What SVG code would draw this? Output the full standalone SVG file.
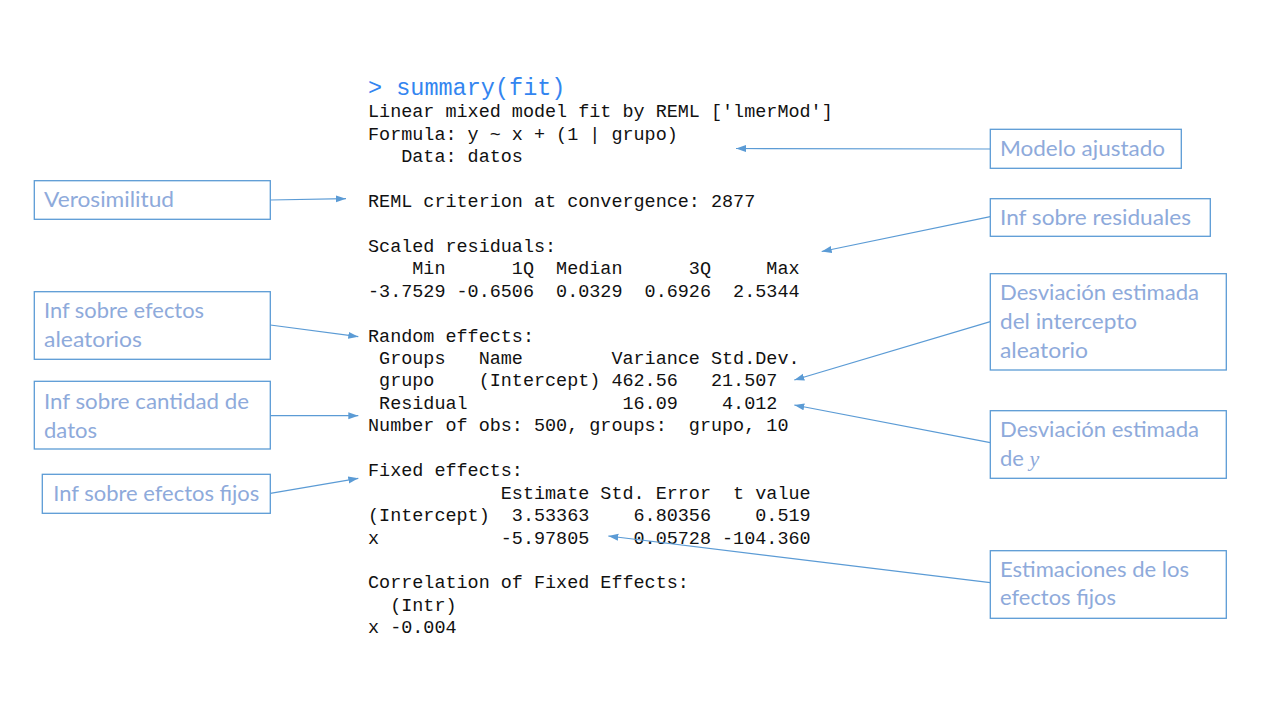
<svg xmlns="http://www.w3.org/2000/svg" width="1280" height="720" viewBox="0 0 1280 720">
<defs>
<style>
.code{font-family:"Liberation Mono","Courier New",monospace;font-size:18.45px;fill:#111;white-space:pre;}
.cmd{font-family:"Liberation Mono","Courier New",monospace;font-size:23.5px;fill:#3385f0;white-space:pre;}
.box{fill:#fff;stroke:#5b9bd5;stroke-width:1.3;}
.lbl{font-family:Lato,"Noto Sans",sans-serif;font-size:22px;fill:#8eaadb;}
.math{font-family:"Liberation Serif",serif;font-style:italic;}
.conn{stroke:#5b9bd5;stroke-width:1.2;fill:none;marker-end:url(#arr);}
</style>
<marker id="arr" markerUnits="userSpaceOnUse" markerWidth="11" markerHeight="8" refX="10" refY="3.5" orient="auto">
<path d="M0,0 L10,3.5 L0,7 z" fill="#5b9bd5"/>
</marker>
</defs>
<rect width="1280" height="720" fill="#fff"/>

<g id="console">
<text class="cmd" x="368" y="94.5" xml:space="preserve">&gt; summary(fit)</text>
<text class="code" x="368" y="117" xml:space="preserve">Linear mixed model fit by REML ['lmerMod']</text>
<text class="code" x="368" y="139.5" xml:space="preserve">Formula: y ~ x + (1 | grupo)</text>
<text class="code" x="368" y="161.9" xml:space="preserve">   Data: datos</text>
<text class="code" x="368" y="206.8" xml:space="preserve">REML criterion at convergence: 2877</text>
<text class="code" x="368" y="251.7" xml:space="preserve">Scaled residuals: </text>
<text class="code" x="368" y="274.1" xml:space="preserve">    Min      1Q  Median      3Q     Max </text>
<text class="code" x="368" y="296.5" xml:space="preserve">-3.7529 -0.6506  0.0329  0.6926  2.5344 </text>
<text class="code" x="368" y="341.5" xml:space="preserve">Random effects:</text>
<text class="code" x="368" y="363.9" xml:space="preserve"> Groups   Name        Variance Std.Dev.</text>
<text class="code" x="368" y="386.3" xml:space="preserve"> grupo    (Intercept) 462.56   21.507 </text>
<text class="code" x="368" y="408.8" xml:space="preserve"> Residual              16.09    4.012 </text>
<text class="code" x="368" y="431.2" xml:space="preserve">Number of obs: 500, groups:  grupo, 10</text>
<text class="code" x="368" y="476.1" xml:space="preserve">Fixed effects:</text>
<text class="code" x="368" y="498.5" xml:space="preserve">            Estimate Std. Error  t value</text>
<text class="code" x="368" y="521" xml:space="preserve">(Intercept)  3.53363    6.80356    0.519</text>
<text class="code" x="368" y="543.5" xml:space="preserve">x           -5.97805    0.05728 -104.360</text>
<text class="code" x="368" y="588.3" xml:space="preserve">Correlation of Fixed Effects:</text>
<text class="code" x="368" y="610.7" xml:space="preserve">  (Intr)</text>
<text class="code" x="368" y="633.2" xml:space="preserve">x -0.004</text>
</g>

<g id="connectors">
<line class="conn" x1="270.3" y1="200" x2="346" y2="198.7"/>
<line class="conn" x1="270.3" y1="325" x2="358.3" y2="336.7"/>
<line class="conn" x1="270.3" y1="415.7" x2="358.3" y2="415.7"/>
<line class="conn" x1="270.3" y1="493.3" x2="358.3" y2="478.3"/>
<line class="conn" x1="990.3" y1="149" x2="736" y2="148.5"/>
<line class="conn" x1="990.3" y1="216.7" x2="821.7" y2="251.5"/>
<line class="conn" x1="990.3" y1="321.7" x2="794.3" y2="380"/>
<line class="conn" x1="990.3" y1="442.7" x2="794.3" y2="405"/>
<line class="conn" x1="990.3" y1="582.7" x2="608.3" y2="536"/>
</g>

<g id="verosimilitud">
<rect class="box" x="34.3" y="180.7" width="236" height="38.6"/>
<text class="lbl" x="44" y="207.3" textLength="130" lengthAdjust="spacingAndGlyphs">Verosimilitud</text>
</g>
<g id="efectos-aleatorios">
<rect class="box" x="34.3" y="291.7" width="236" height="67.6"/>
<text class="lbl" x="44" y="318" textLength="160" lengthAdjust="spacingAndGlyphs">Inf sobre efectos</text>
<text class="lbl" x="44" y="347.3" textLength="98" lengthAdjust="spacingAndGlyphs">aleatorios</text>
</g>
<g id="cantidad-datos">
<rect class="box" x="34.3" y="381.3" width="236" height="67.7"/>
<text class="lbl" x="44" y="408.6" textLength="205" lengthAdjust="spacingAndGlyphs">Inf sobre cantidad de</text>
<text class="lbl" x="44" y="438" textLength="53" lengthAdjust="spacingAndGlyphs">datos</text>
</g>
<g id="efectos-fijos">
<rect class="box" x="42.3" y="474.3" width="228" height="39"/>
<text class="lbl" x="53.3" y="501.3" textLength="206" lengthAdjust="spacingAndGlyphs">Inf sobre efectos fijos</text>
</g>
<g id="modelo-ajustado">
<rect class="box" x="990.3" y="129.3" width="191" height="39"/>
<text class="lbl" x="1000" y="156.3" textLength="165" lengthAdjust="spacingAndGlyphs">Modelo ajustado</text>
</g>
<g id="residuales">
<rect class="box" x="990.3" y="198.7" width="220" height="37.6"/>
<text class="lbl" x="1000" y="224.6" textLength="191" lengthAdjust="spacingAndGlyphs">Inf sobre residuales</text>
</g>
<g id="desv-intercepto">
<rect class="box" x="990.3" y="273.7" width="236" height="96.3"/>
<text class="lbl" x="1000" y="299.6" textLength="199" lengthAdjust="spacingAndGlyphs">Desviación estimada</text>
<text class="lbl" x="1000" y="328.6" textLength="137" lengthAdjust="spacingAndGlyphs">del intercepto</text>
<text class="lbl" x="1000" y="358" textLength="88" lengthAdjust="spacingAndGlyphs">aleatorio</text>
</g>
<g id="desv-y">
<rect class="box" x="990.3" y="410.7" width="236" height="67.6"/>
<text class="lbl" x="1000" y="437" textLength="199" lengthAdjust="spacingAndGlyphs">Desviación estimada</text>
<text class="lbl" x="1000" y="465.6">de <tspan class="math">y</tspan></text>
</g>
<g id="estimaciones">
<rect class="box" x="990.3" y="550.7" width="236" height="67.6"/>
<text class="lbl" x="1000" y="577.3" textLength="189" lengthAdjust="spacingAndGlyphs">Estimaciones de los</text>
<text class="lbl" x="1000" y="605.3" textLength="116" lengthAdjust="spacingAndGlyphs">efectos fijos</text>
</g>
</svg>
